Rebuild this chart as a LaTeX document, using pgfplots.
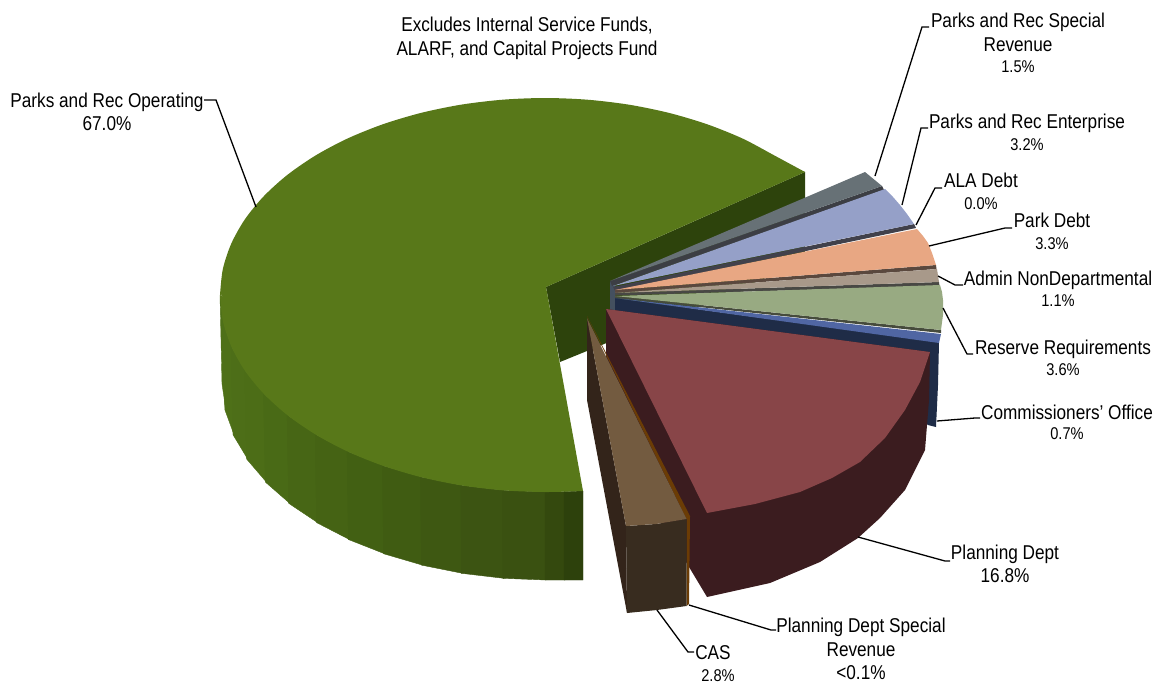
\documentclass[border=0pt]{standalone}
\usepackage{pgfplots}
\pgfplotsset{compat=1.18}
\usepackage{fontspec}
\setmainfont{Liberation Sans}[FakeStretch=0.86]
% label centred on #1, with its capitals centred vertically there
\newcommand{\lab}[3]{\node[inner sep=0pt,anchor=base,yshift=-0.36*#3pt,font=\fontsize{#3}{#3}\selectfont] at (axis cs:#1) {#2};}
\begin{document}
\begin{tikzpicture}
\begin{axis}[
  x=1pt,y=1pt,scale only axis,
  xmin=0,xmax=1159,ymin=0,ymax=683,y dir=reverse,
  hide axis,clip=false,
  colormap={wall}{rgb255=(78,112,24) rgb255=(73,105,22) rgb255=(68,98,20) rgb255=(63,90,18) rgb255=(59,82,18) rgb255=(53,74,14) rgb255=(45,65,12)},
  point meta min=0,point meta max=13,
]
% picture frame
\path (axis cs:0,0) rectangle (axis cs:1159,683);
% outer wall of the large slice: each band reaches a little under the next one
\addplot[patch,patch type=rectangle,shader=flat,point meta=explicit] coordinates {
(220,295)[0] (222,384)[0] (225.8,409.6)[0] (223.8,320.7)[0]
(222.8,320.7)[0] (224.8,409.6)[0] (234,434.7)[0] (232.1,346)[0]
(231.1,346)[0.5] (233,434.7)[0.5] (247.6,459)[0.5] (245.7,370.4)[0.5]
(244.7,370.4)[1] (246.6,459)[1] (266.3,482)[1] (264.5,393.5)[1]
(263.5,393.5)[2] (265.3,482)[2] (289.7,503.3)[2] (288.1,414.9)[2]
(287.1,414.9)[3] (288.7,503.3)[3] (317.6,522.6)[3] (316.2,434.3)[3]
(315.2,434.3)[4] (316.6,522.6)[4] (349.4,539.5)[4] (348.1,451.3)[4]
(347.1,451.3)[5] (348.4,539.5)[5] (384.5,553.7)[5] (383.5,465.6)[5]
(382.5,465.6)[6] (383.5,553.7)[6] (422.4,565.1)[6] (421.6,477)[6]
(420.6,477)[7] (421.4,565.1)[7] (462.4,573.3)[7] (461.9,485.3)[7]
(460.9,485.3)[8] (461.4,573.3)[8] (503.8,578.3)[8] (503.6,490.3)[8]
(502.6,490.3)[9] (502.8,578.3)[9] (546,580)[9] (546,492)[9]
(545,492)[11] (545,580)[11] (565,580)[11] (565,491.7)[11]
(564,491.7)[13] (564,580)[13] (583,580)[13] (583,491)[13]
};
% cut face of the large slice
\addplot[fill={rgb,255:red,45;green,67;blue,12},draw=none] coordinates {(546,287) (805,172) (805,262) (560,362)} --cycle;
% top of the large slice: two curved parts and the wedge lying over them
\addplot[smooth,fill={rgb,255:red,88;green,120;blue,25},draw=none] coordinates {
(805,172) (774.8,155.7) (742.9,138.7) (707.5,124.4) (669.4,113) (629.1,104.7) (587.4,99.7) (545,98)
(502.6,99.7) (460.9,104.7) (420.6,113) (382.5,124.4) (347.1,138.7) (315.2,155.7) (287.1,175.1) (263.5,196.5)
(244.7,219.6) (231.1,244) (222.8,269.3) (220,295)} --cycle;
\addplot[smooth,fill={rgb,255:red,88;green,120;blue,25},draw=none] coordinates {
(220,295) (222.8,320.7) (231.1,346) (244.7,370.4) (263.5,393.5)
(287.1,414.9) (315.2,434.3) (347.1,451.3) (382.5,465.6) (420.6,477) (460.9,485.3) (502.6,490.3) (545,492) (583,491)} --cycle;
\addplot[fill={rgb,255:red,88;green,120;blue,25},draw=none] coordinates {
(546,287) (805,172) (700,135) (545,110) (350,150) (221,295) (350,440) (583,491)} --cycle;
% inner walls meeting at the centre
\addplot[fill={rgb,255:red,68;green,80;blue,95},draw=none] coordinates {(610,281) (615,284) (615,312) (610,310)} --cycle;
% Parks and Rec Special Revenue
\addplot[fill={rgb,255:red,60;green,62;blue,68},draw=none] coordinates {(882,186) (884,190) (612,286) (610,281)} --cycle;
\addplot[fill={rgb,255:red,103;green,113;blue,118},draw=none] coordinates {(610,281) (865,172) (882,186)} --cycle;
% Parks and Rec Enterprise
\addplot[fill={rgb,255:red,65;green,65;blue,75},draw=none] coordinates {(914,224) (916,228) (615,291) (613,287)} --cycle;
\addplot[fill={rgb,255:red,149;green,160;blue,200},draw=none] coordinates {(613,286) (885,189) (893,197) (900,205) (907,214) (914,224)} --cycle;
% Park Debt
\addplot[fill={rgb,255:red,90;green,72;blue,62},draw=none] coordinates {(936,265) (936.5,269) (615,293) (615,290)} --cycle;
\addplot[fill={rgb,255:red,232;green,167;blue,131},draw=none] coordinates {(615,290) (917,229) (923,236) (928,243) (932,253) (936,265)} --cycle;
% Admin NonDepartmental
\addplot[fill={rgb,255:red,72;green,72;blue,68},draw=none] coordinates {(939,282) (939.5,286) (615,295.5) (615,293)} --cycle;
\addplot[fill={rgb,255:red,168;green,153;blue,138},draw=none] coordinates {(615,293) (937,269) (939,282)} --cycle;
% Reserve Requirements
\addplot[fill={rgb,255:red,70;green,75;blue,60},draw=none] coordinates {(941,330) (941,333) (615,298) (615,296)} --cycle;
\addplot[fill={rgb,255:red,152;green,170;blue,130},draw=none] coordinates {(615,296) (940,285) (942,292) (943,300) (943,315) (941,330)} --cycle;
% Commissioners' Office
\addplot[fill={rgb,255:red,31;green,44;blue,71},draw=none] coordinates {(615,298) (939,342) (938,385) (936,427) (928,425) (900,400) (615,322)} --cycle;
\addplot[fill={rgb,255:red,80;green,102;blue,163},draw=none] coordinates {(615,298) (941,334) (939,343)} --cycle;
% Planning Dept
\addplot[fill={rgb,255:red,59;green,28;blue,31},draw=none] coordinates {
(606,309) (930,352) (929,400) (925,450) (905,490) (880,518) (858,538) (820,562) (770,583) (707,597) (689,567) (660,518) (606,400)} --cycle;
\addplot[fill={rgb,255:red,136;green,69;blue,72},draw=none] coordinates {
(606,309) (930,352) (920,382) (905,410) (885,438) (860,462) (832,478) (800,492) (755,504) (707,513)} --cycle;
% Planning Dept Special Revenue
\addplot[fill={rgb,255:red,107;green,60;blue,5},draw=none] coordinates {(587,316) (690,516) (689,604) (686.5,606) (686.5,519)} --cycle;
% CAS
\addplot[fill={rgb,255:red,51;green,36;blue,26},draw=none] coordinates {(587,318) (626,526) (627,613) (587,400)} --cycle;
\addplot[fill={rgb,255:red,56;green,44;blue,31},draw=none] coordinates {(626,526) (656,524) (686.5,519) (686.5,606) (657,610) (627,613)} --cycle;
\addplot[fill={rgb,255:red,115;green,91;blue,64},draw=none] coordinates {(587,318) (686.5,519) (656,524) (626,526)} --cycle;
% leader lines
\addplot[black,line width=1.3pt] coordinates {(204,100) (216,100) (256,207)};
\addplot[black,line width=1.3pt] coordinates {(875,176) (922,27) (929,27)};
\addplot[black,line width=1.3pt] coordinates {(902,205) (921,128) (928,128)};
\addplot[black,line width=1.3pt] coordinates {(916,225) (935,188) (942,188)};
\addplot[black,line width=1.3pt] coordinates {(929,246) (1005,228) (1012,228)};
\addplot[black,line width=1.3pt] coordinates {(938,276) (955,285) (963,285)};
\addplot[black,line width=1.3pt] coordinates {(943,308) (967,354) (973,354)};
\addplot[black,line width=1.3pt] coordinates {(937,421) (975,418) (980,418)};
\addplot[black,line width=1.3pt] coordinates {(858,537) (945,561) (950,561)};
\addplot[black,line width=1.3pt] coordinates {(689,605) (771,630) (776,630)};
\addplot[black,line width=1.3pt] coordinates {(657,610) (688,652) (694,652)};
% labels
\lab{527,24}{Excludes Internal Service Funds,}{20}
\lab{527,48}{ALARF, and Capital Projects Fund}{20}
\lab{107,100}{Parks and Rec Operating}{20}
\lab{107,123}{67.0\%}{20}
\lab{1018,20}{Parks and Rec Special}{20}
\lab{1018,44}{Revenue}{20}
\lab{1018,66}{1.5\%}{17}
\lab{1027,121}{Parks and Rec Enterprise}{20}
\lab{1027,144}{3.2\%}{17}
\lab{981,180}{ALA Debt}{20}
\lab{981,203}{0.0\%}{17}
\lab{1052,220}{Park Debt}{20}
\lab{1052,243}{3.3\%}{17}
\lab{1058,278}{Admin NonDepartmental}{20}
\lab{1058,300}{1.1\%}{17}
\lab{1063,347}{Reserve Requirements}{20}
\lab{1063,369}{3.6\%}{17}
\lab{1067,412}{Commissioners' Office}{20}
\lab{1067,433}{0.7\%}{17}
\lab{1005,552}{Planning Dept}{20}
\lab{1005,575}{16.8\%}{20}
\lab{861,625}{Planning Dept Special}{20}
\lab{861,649}{Revenue}{20}
\lab{861,672}{<0.1\%}{20}
\lab{713,652}{CAS}{20}
\lab{718,675}{2.8\%}{17}
\end{axis}
\end{tikzpicture}
\end{document}
